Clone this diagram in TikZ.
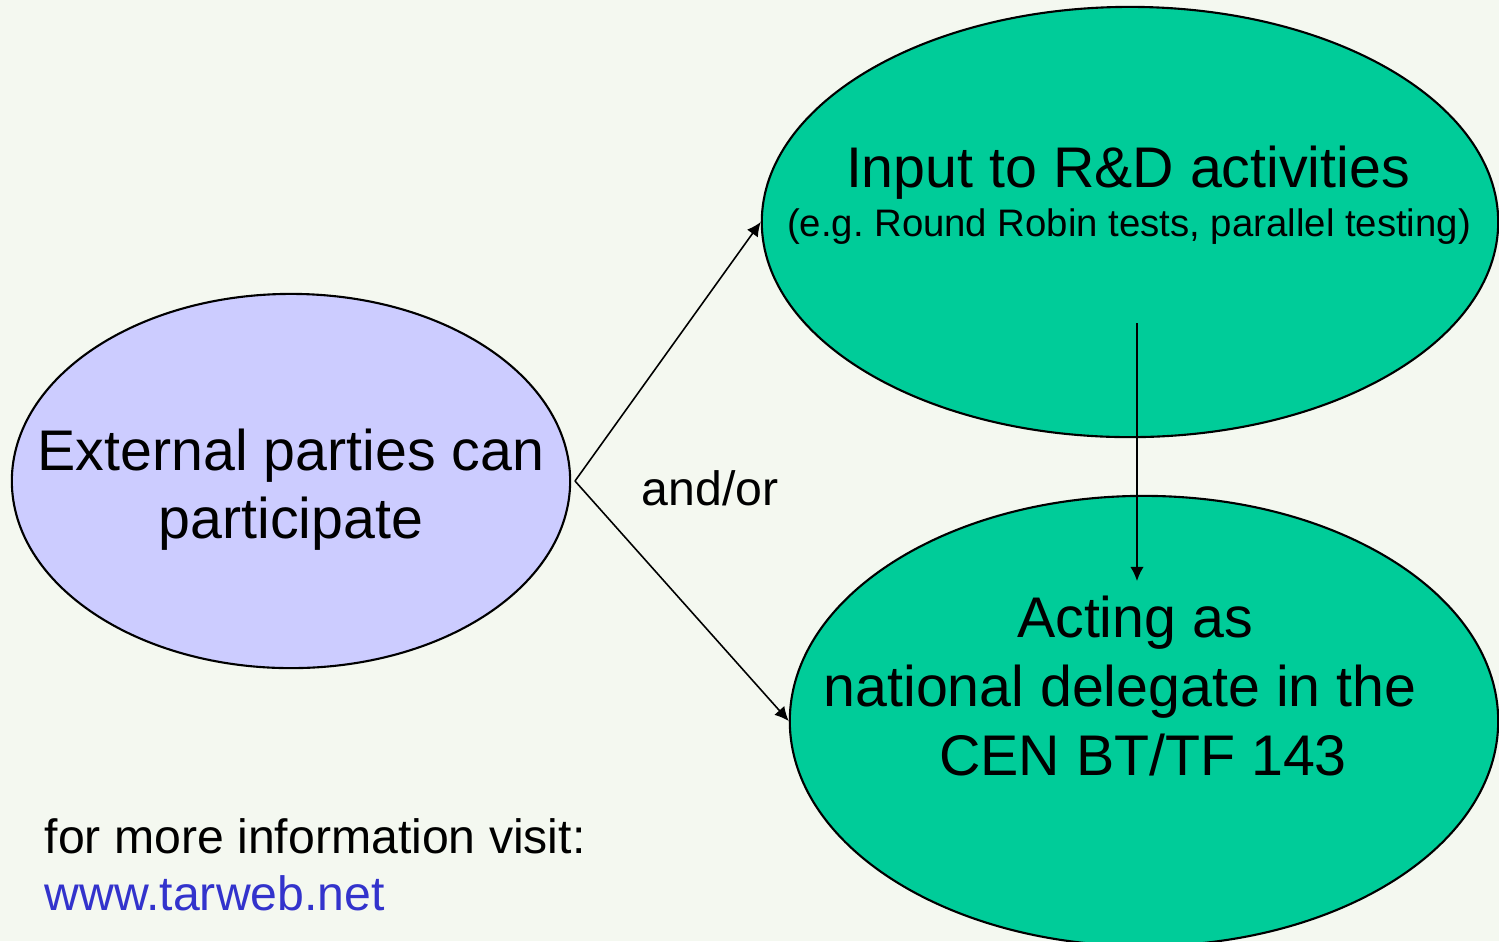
\documentclass[tikz,border=0pt]{standalone}
\usepackage{fontspec}
\setmainfont{Liberation Sans}
\usetikzlibrary{shapes.geometric,arrows.meta}
\definecolor{bgc}{HTML}{F4F8F0}
\definecolor{lav}{HTML}{CCCCFF}
\definecolor{grn}{HTML}{00CC99}
\definecolor{lnk}{HTML}{3333CC}
\frenchspacing
\tikzset{
  bubble/.style={ellipse, draw=black, line width=0.6pt, inner sep=0pt},
  big/.style={font=\fontsize{16.3}{19.5}\selectfont, inner sep=0pt, anchor=base},
  small/.style={font=\fontsize{10.9}{13}\selectfont, inner sep=0pt, anchor=base},
  mid/.style={font=\fontsize{13.7}{16}\selectfont, inner sep=0pt, anchor=base},
  conn/.style={line width=0.45pt, -{Latex[length=4pt,width=3.8pt]}}
}
\begin{document}
\begin{tikzpicture}[x=0.01cm,y=-0.01cm]
\fill[bgc] (0,0) rectangle (1499,941);
\useasboundingbox (0,0) rectangle (1499,941);
\node[bubble, fill=lav, minimum width=5.58cm, minimum height=3.74cm] (L) at (291,481) {};
\node[bubble, fill=grn, minimum width=7.36cm, minimum height=4.30cm] (T) at (1130,222) {};
\node[bubble, fill=grn, minimum width=7.08cm, minimum height=4.50cm] (B) at (1144,721) {};
\node[big] (l1) at (291,470) {External parties can};
\node[big] (l2) at (291,538) {participate};
\node[big] (t1) at (1128,187) {Input to R\&D activities};
\node[small] (t2) at (1129,236) {(e.g.\ Round Robin tests, parallel testing)};
\node[big] (b1) at (1135,637) {Acting as};
\node[big] (b2) at (1120,706) {national delegate in the};
\node[big] (b3) at (1143,775) {CEN BT/TF 143};
\node[mid] (ao) at (710,505) {and/or};
\node[mid, anchor=base west] (info) at (44,853) {for more information visit:};
\node[mid, anchor=base west, text=lnk] (url) at (44,910) {www.tarweb.net};
\coordinate (src) at (575,481);
\coordinate (vs) at (1137,323);
\coordinate (ve) at (1137,581);
\draw[conn] (src) -- (T.west);
\draw[conn] (src) -- (B.west);
\draw[conn] (vs) -- (ve);
\end{tikzpicture}
\end{document}
